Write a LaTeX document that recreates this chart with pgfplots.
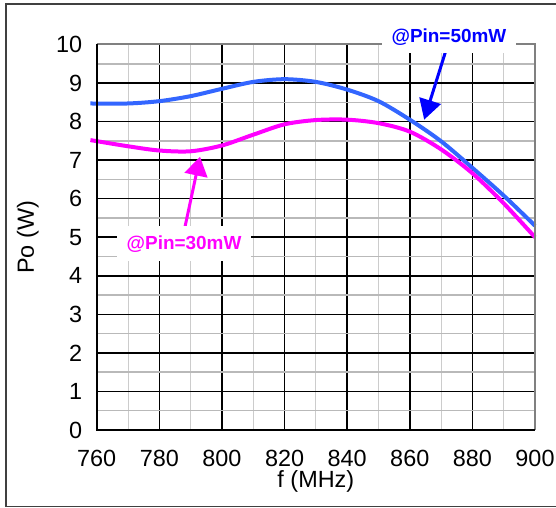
\documentclass[border=0pt]{standalone}
\usepackage{pgfplots}
\pgfplotsset{compat=1.18}
\usepackage{fontspec}
\setmainfont{Liberation Sans}
\usetikzlibrary{arrows.meta}
\definecolor{cblue}{RGB}{51,102,255}
\definecolor{cpink}{RGB}{255,0,255}
\definecolor{tblue}{RGB}{0,0,255}
\begin{document}
\begin{tikzpicture}
\useasboundingbox (-96.7bp,-78bp) rectangle (459.3bp,430bp);
\draw[line width=1.5bp, black!75] (-90.7bp,-76.5bp) rectangle (462bp,426bp);
\begin{axis}[
  at={(0,0)}, anchor=south west,
  scale only axis, width=438.3bp, height=385.5bp,
  xmin=760, xmax=900, ymin=0, ymax=10,
  xtick={760,780,...,900}, ytick={0,1,...,10},
  minor x tick num=1, minor y tick num=1,
  grid=both,
  major grid style={black, line width=1.5bp},
  minor x grid style={gray!40, line width=1bp},
  minor y grid style={gray!55, line width=1.5bp},
  major tick length=0pt, minor tick length=0pt,
  axis line style={draw=none},
  clip=false,
  /pgf/number format/assume math mode=true,
  tick label style={font=\fontsize{23.5}{28}\selectfont},
  yticklabel style={xshift=-11bp},
  xticklabel style={yshift=-17bp},
  label style={font=\fontsize{23.5}{28}\selectfont},
  xlabel={f (MHz)},
  xlabel style={at={(axis description cs:0.5,-0.148)}, anchor=base, inner sep=0pt},
  ylabel={Po (W)},
  ylabel style={at={(axis description cs:-0.1825,0.5)}, anchor=north, inner sep=0pt, rotate=0},
]
\addplot[cblue, line width=4bp, smooth] coordinates {
(758,8.47) (770,8.47) (780,8.53) (790,8.66) (800,8.85) (810,9.03) (820,9.10)
(830,9.03) (840,8.83) (850,8.53) (860,8.05) (870,7.49) (880,6.80) (890,6.08) (900,5.30)
};
\addplot[cpink, line width=4bp, smooth] coordinates {
(758,7.52) (770,7.36) (780,7.25) (790,7.23) (800,7.38) (810,7.66) (820,7.93)
(830,8.04) (840,8.05) (850,7.96) (860,7.74) (870,7.28) (880,6.66) (890,5.88) (900,5.00)
};
\draw[gray, line width=2bp] (axis cs:760,10) -- (axis cs:900,10) -- (axis cs:900,0);
\draw[black, line width=2bp] (axis cs:760,10) -- (axis cs:760,0) -- (axis cs:900,0);
\draw[tblue, line width=3bp, -{Triangle[length=20bp,width=22bp]}] (axis cs:871.8,9.91) -- (axis cs:864.6,8.05);
\draw[cpink, line width=3bp, -{Triangle[length=19bp,width=23bp]}] (axis cs:788.2,5.27) -- (axis cs:793.0,7.09);
\node[fill=white, inner xsep=10bp, inner ysep=7bp, text=tblue, font=\fontsize{19}{22}\selectfont\bfseries] at (axis cs:872.5,10.18) {@Pin=50mW};
\node[fill=white, inner xsep=10bp, inner ysep=9bp, text=cpink, font=\fontsize{19}{22}\selectfont\bfseries] at (axis cs:787.9,4.83) {@Pin=30mW};
\end{axis}
\end{tikzpicture}
\end{document}
